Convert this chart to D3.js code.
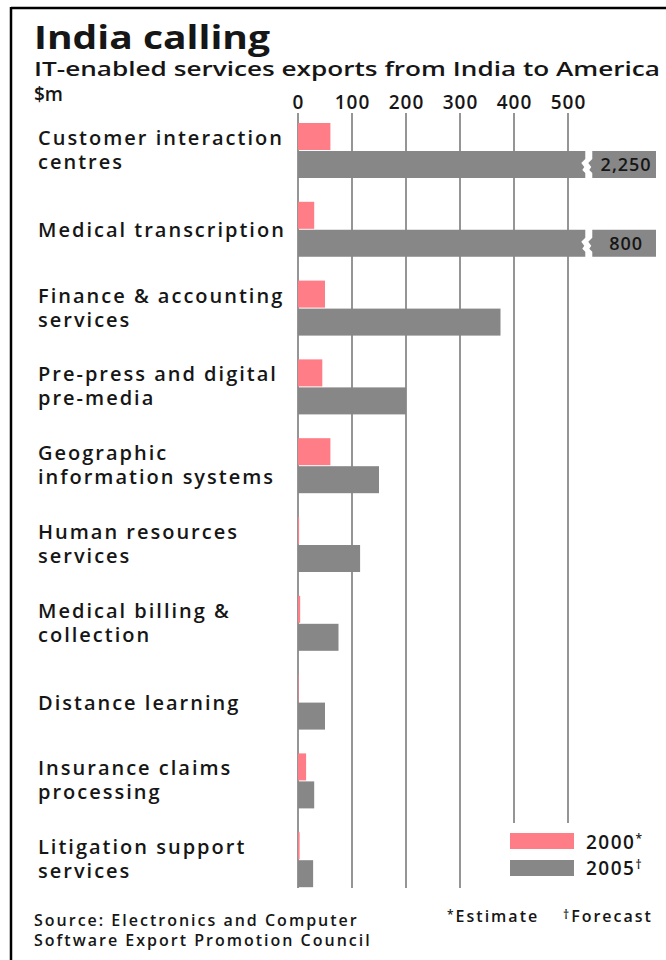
<!DOCTYPE html>
<html>
<head>
<meta charset="utf-8">
<script src="https://cdn.jsdelivr.net/npm/d3@7"></script>
<style>
  body { margin: 0; background: #fff; }
  svg text { font-family: "Open Sans", "Noto Sans", sans-serif; fill: #161616; font-weight: 600; }
</style>
</head>
<body>
<svg id="chart"></svg>
<script>
var screen = {width: 666, height: 960}

// data
var categories = ["Customer interaction centres", "Medical transcription", "Finance & accounting services",
    "Pre-press and digital pre-media", "Geographic information systems", "Human resources services",
    "Medical billing & collection", "Distance learning", "Insurance claims processing", "Litigation support services"]
var labelLines = [["Customer interaction", "centres"], ["Medical transcription"], ["Finance & accounting", "services"],
    ["Pre-press and digital", "pre-media"], ["Geographic", "information systems"], ["Human resources", "services"],
    ["Medical billing &", "collection"], ["Distance learning"], ["Insurance claims", "processing"], ["Litigation support", "services"]]
var values2000 = [60, 30, 50, 45, 60, 2, 4, 1, 15, 3]
var values2005 = [2250, 800, 375, 200, 150, 115, 75, 50, 30, 28]
var ticks = [0, 100, 200, 300, 400, 500]
var seriesNames = ["2000", "2005"]
var seriesMarks = ["*", "\u2020"]

var colors = {pink: "#ff7d86", grey: "#878787", grid: "#959595"}
var barH = 27
var breakAt = 532   // bars longer than this get cut

var svg = d3.select("#chart")
    .attr("width", screen.width)
    .attr("height", screen.height)

// frame: top rule and left rule
svg.append("line").attr("x1", 11).attr("x2", 666).attr("y1", 8).attr("y2", 8)
    .attr("stroke", "#000").attr("stroke-width", 2.5)
svg.append("line").attr("x1", 11).attr("x2", 11).attr("y1", 7).attr("y2", 960)
    .attr("stroke", "#000").attr("stroke-width", 2.5)

// titles
svg.append("text").attr("x", 34).attr("y", 49).text("India calling")
    .style("font-size", "32px").style("font-weight", "bold")
    .attr("textLength", 236).attr("lengthAdjust", "spacingAndGlyphs")
svg.append("text").attr("x", 34).attr("y", 76).text("IT-enabled services exports from India to America")
    .style("font-size", "20px").attr("textLength", 626).attr("lengthAdjust", "spacingAndGlyphs")
svg.append("text").attr("x", 34).attr("y", 101).text("$m").style("font-size", "19px")

var xScale = d3.scaleLinear().domain([0, 500]).range([298, 568])
var yScale = d3.scaleBand().domain(categories).range([123, 123 + 78.8 * categories.length])

// gridlines
var grid = svg.append("g").attr("id", "grid")
grid.selectAll("line").data(ticks).enter().append("line")
    .attr("x1", function(d) { return xScale(d) })
    .attr("x2", function(d) { return xScale(d) })
    .attr("y1", 113)
    .attr("y2", function(d) { return d >= 400 ? 823 : 888 })
    .attr("stroke", colors.grid).attr("stroke-width", 2)

var xAxis = d3.axisTop(xScale).tickValues(ticks).tickSize(0).tickPadding(0).tickFormat(d3.format("d"))
var axisG = svg.append("g").attr("transform", "translate(0,109)").call(xAxis)
axisG.select(".domain").remove()
axisG.selectAll("text").style("font-size", "19px").style("letter-spacing", "1px").attr("fill", "#161616")

// category labels, one text per line
var labels = svg.append("g").attr("id", "labels")
categories.forEach(function(c, i) {
    var top = yScale(c)
    var lines = labelLines[i]
    var ys = lines.length == 1 ? [top + 35] : [top + 22, top + 46]
    lines.forEach(function(l, j) {
        labels.append("text").attr("x", 38).attr("y", ys[j])
            .style("font-size", "20px").style("letter-spacing", "2px").text(l)
    })
})

// 2000 bars
svg.append("g").selectAll("rect").data(values2000).enter().append("rect")
    .attr("x", xScale(0))
    .attr("y", function(d, i) { return yScale(categories[i]) })
    .attr("width", function(d) { return xScale(d) - xScale(0) })
    .attr("height", barH)
    .attr("fill", colors.pink)

// 2005 bars, broken if too long
var zig = function(x, top) {
    return [[x, top], [x, top + 8], [x - 4, top + 12], [x - 1, top + 16], [x - 3, top + 19], [x, top + 22], [x, top + barH]]
}
var bars05 = svg.append("g")
values2005.forEach(function(d, i) {
    var top = yScale(categories[i]) + barH + 1
    if (d <= breakAt) {
        bars05.append("rect")
            .attr("x", xScale(0)).attr("y", top)
            .attr("width", xScale(d) - xScale(0)).attr("height", barH)
            .attr("fill", colors.grey)
    } else {
        var xb = xScale(breakAt)
        var edge = zig(xb, top)
        var pts = [[xScale(0), top]].concat(edge).concat([[xScale(0), top + barH]])
        bars05.append("path").attr("d", d3.line()(pts) + "Z").attr("fill", colors.grey)
        var edge2 = zig(xb + 7, top)
        var boxRight = 656
        var pts2 = edge2.concat([[boxRight, top + barH], [boxRight, top]])
        bars05.append("path").attr("d", d3.line()(pts2) + "Z").attr("fill", colors.grey)
        bars05.append("text").attr("x", (xb + 7 + boxRight) / 2 + 2).attr("y", top + 20)
            .attr("text-anchor", "middle").style("font-size", "18px").style("letter-spacing", "1px")
            .text(d3.format(",")(d))
    }
})

// legend
var legend = svg.append("g").attr("id", "legend")
var legColors = [colors.pink, colors.grey]
legend.selectAll("rect").data(seriesNames).enter().append("rect")
    .attr("x", 510).attr("y", function(d, i) { return 833 + i * 27 })
    .attr("width", 64).attr("height", 16)
    .attr("fill", function(d, i) { return legColors[i] })
var legText = legend.selectAll("text").data(seriesNames).enter().append("text")
    .attr("x", 586).attr("y", function(d, i) { return 849 + i * 26 })
    .style("font-size", "19px").style("letter-spacing", "1.5px")
legText.append("tspan").text(function(d) { return d })
legText.append("tspan").attr("dy", -6).style("font-size", "12px").text(function(d, i) { return seriesMarks[i] })

// footer
var foot = svg.append("g").attr("id", "footer").style("font-size", "16px").style("letter-spacing", "2px")
foot.append("text").attr("x", 34).attr("y", 926).text("Source: Electronics and Computer")
foot.append("text").attr("x", 34).attr("y", 946).text("Software Export Promotion Council")
var est = foot.append("text").attr("x", 447).attr("y", 922)
est.append("tspan").attr("dy", -3).style("font-size", "12px").text("*")
est.append("tspan").attr("dy", 3).text("Estimate")
var fc = foot.append("text").attr("x", 563).attr("y", 922)
fc.append("tspan").attr("dy", -3).style("font-size", "12px").text("\u2020")
fc.append("tspan").attr("dy", 3).text("Forecast")
</script>
</body>
</html>
